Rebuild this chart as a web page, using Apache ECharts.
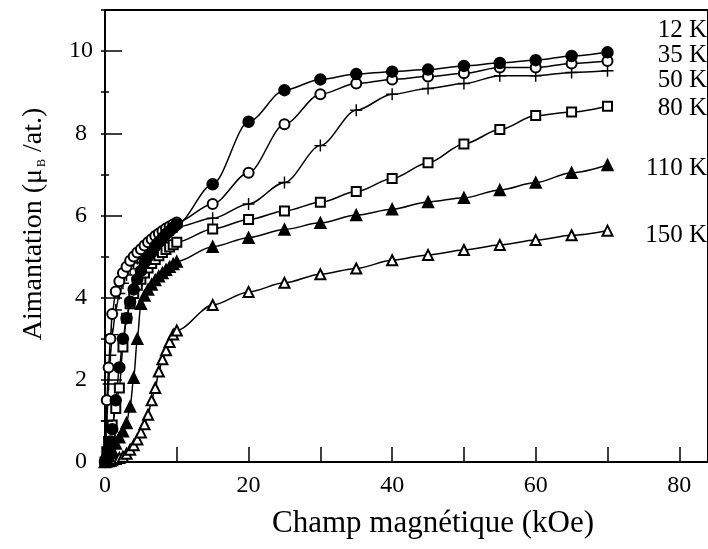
<!DOCTYPE html>
<html>
  <head>
    <meta charset="utf-8" />
    <title>Aimantation</title>
    <script src="https://cdn.jsdelivr.net/npm/echarts@6/dist/echarts.min.js"></script>
  </head>
  <body style="margin:0;background:#fff">
    <div id="container" style="width:708px;height:549px;"></div>
    <script type="text/javascript">
    // champ (kOe) : bas champ, pas serré
    var fieldLow = [0, 0.25, 0.5, 0.75, 1, 1.5, 2, 2.5, 3, 3.5, 4, 4.5, 5, 5.5, 6, 6.5, 7, 7.5, 8, 8.5, 9, 9.5, 10];
    // champ (kOe) : haut champ
    var fieldHigh = [15, 20, 25, 30, 35, 40, 45, 50, 55, 60, 65, 70];

    // aimantation (uB/at.) pour chaque température
    var low12 = [0, 0.1, 0.3, 0.5, 0.8, 1.5, 2.3, 3.0, 3.5, 3.9, 4.2, 4.45, 4.65, 4.85, 5.0, 5.1, 5.25, 5.35, 5.45, 5.55, 5.62, 5.7, 5.78];
    var high12 = [6.76, 8.28, 9.05, 9.31, 9.44, 9.50, 9.55, 9.64, 9.71, 9.78, 9.88, 9.97];
    var low35 = [0, 1.5, 2.3, 3.0, 3.6, 4.15, 4.4, 4.6, 4.75, 4.9, 5.0, 5.1, 5.18, 5.27, 5.35, 5.42, 5.5, 5.56, 5.62, 5.68, 5.73, 5.78, 5.83];
    var high35 = [6.28, 7.04, 8.22, 8.95, 9.21, 9.31, 9.38, 9.46, 9.60, 9.60, 9.70, 9.76];
    var low50 = [0, 1.0, 1.9, 2.6, 3.1, 3.7, 4.1, 4.35, 4.55, 4.7, 4.85, 4.95, 5.05, 5.15, 5.22, 5.3, 5.37, 5.43, 5.5, 5.55, 5.6, 5.65, 5.72];
    var high50 = [5.93, 6.28, 6.80, 7.70, 8.56, 8.95, 9.09, 9.21, 9.40, 9.40, 9.48, 9.52];
    var low80 = [0, 0.25, 0.5, 0.7, 0.9, 1.3, 1.8, 2.8, 3.5, 3.85, 4.1, 4.3, 4.45, 4.6, 4.72, 4.83, 4.93, 5.02, 5.1, 5.17, 5.23, 5.29, 5.35];
    var high80 = [5.67, 5.90, 6.11, 6.32, 6.58, 6.90, 7.28, 7.74, 8.09, 8.43, 8.52, 8.66];
    var low110 = [0, 0.08, 0.15, 0.22, 0.3, 0.45, 0.6, 0.75, 0.95, 1.35, 2.05, 3.0, 3.85, 4.05, 4.2, 4.32, 4.43, 4.52, 4.6, 4.68, 4.75, 4.82, 4.88];
    var high110 = [5.24, 5.46, 5.66, 5.82, 6.01, 6.15, 6.33, 6.43, 6.62, 6.80, 7.04, 7.23];
    var low150 = [0, 0.01, 0.02, 0.03, 0.04, 0.07, 0.1, 0.13, 0.2, 0.3, 0.41, 0.55, 0.72, 0.92, 1.15, 1.5, 1.8, 2.2, 2.5, 2.72, 2.92, 3.1, 3.2];
    var high150 = [3.82, 4.14, 4.36, 4.57, 4.71, 4.91, 5.04, 5.16, 5.28, 5.40, 5.52, 5.63];

    var tempLabels = ['12 K', '35 K', '50 K', '80 K', '110 K', '150 K'];

    var serif = 'Liberation Serif';
    var plusPath = 'path://M4.4,0h1.2v10h-1.2z M0,4.4h10v1.2h-10z';

    function pairs(low, high) {
      var d = [];
      for (var i = 0; i < fieldLow.length; i++) d.push([fieldLow[i], low[i]]);
      for (var j = 0; j < fieldHigh.length; j++) d.push([fieldHigh[j], high[j]]);
      return d;
    }

    function makeSeries(name, data, symbol, size, border) {
      return {
        name: name,
        type: 'line',
        data: data,
        symbol: symbol,
        symbolSize: size,
        smooth: 0.3,
        smoothMonotone: 'x',
        lineStyle: { color: '#000', width: 1.5 },
        itemStyle: { color: '#000', borderColor: '#000', borderWidth: border },
        emphasis: { disabled: true }
      };
    }

    var myChart = echarts.init(document.getElementById('container'));
    var gridLeft = 105, gridRight = -4;
    var gridWidth = 708 - gridLeft - gridRight;

    var option = {
      animation: false,
      grid: {
        left: gridLeft, right: gridRight, top: 10, bottom: 87,
        show: true, borderColor: '#000', borderWidth: 2, backgroundColor: 'transparent'
      },
      xAxis: {
        type: 'value', min: 0, max: 84, interval: 10,
        axisLine: { lineStyle: { color: '#000', width: 2 } },
        axisTick: { inside: true, length: 15, lineStyle: { color: '#000', width: 1.5 } },
        axisLabel: {
          formatter: function (v) { return v % 20 === 0 ? v : ''; },
          showMaxLabel: false, fontFamily: serif, fontSize: 24, color: '#000', margin: 12
        },
        splitLine: { show: false }
      },
      yAxis: [
        {
          type: 'value', min: 0, max: 11, interval: 2, position: 'left',
          axisLine: { lineStyle: { color: '#000', width: 2 } },
          axisTick: { inside: true, length: 17, lineStyle: { color: '#000', width: 1.5 } },
          axisLabel: {
            formatter: function (v) { return v % 2 === 0 ? v : ''; },
            showMaxLabel: false, fontFamily: serif, fontSize: 24, color: '#000',
            align: 'center', margin: 24
          },
          splitLine: { show: false }
        },
        {
          // petites graduations (chaque unité)
          type: 'value', min: 0, max: 11, interval: 1, position: 'right', offset: -gridWidth,
          axisLine: { show: false },
          axisTick: { inside: false, length: 8, lineStyle: { color: '#000', width: 1.5 } },
          axisLabel: { show: false },
          splitLine: { show: false }
        }
      ],
      series: [
        makeSeries('150 K', pairs(low150, high150), 'emptyTriangle', 10, 1.5),
        makeSeries('110 K', pairs(low110, high110), 'triangle', 11, 1.5),
        makeSeries('80 K', pairs(low80, high80), 'emptyRect', 9, 1.5),
        makeSeries('50 K', pairs(low50, high50), plusPath, 12, 0),
        makeSeries('35 K', pairs(low35, high35), 'emptyCircle', 10, 1.5),
        makeSeries('12 K', pairs(low12, high12), 'circle', 11, 1.5)
      ],
      graphic: [
        {
          type: 'text', x: 433, y: 524,
          style: {
            text: 'Champ magnétique (kOe)', font: '31px "Liberation Serif"', fill: '#000',
            align: 'center', verticalAlign: 'middle', textAlign: 'center', textVerticalAlign: 'middle'
          }
        },
        {
          type: 'text', x: 34, y: 224, rotation: Math.PI / 2,
          style: {
            text: 'Aimantation (μ{b|B} /at.)', font: '28px "Liberation Serif"', fill: '#000',
            align: 'center', verticalAlign: 'middle', textAlign: 'center', textVerticalAlign: 'middle',
            rich: { b: { fontSize: 12, fontFamily: serif, padding: [16, 0, 0, 2] } }
          }
        }
      ]
    };

    var labelY = [30, 55, 80, 108, 168, 235];
    for (var k = 0; k < tempLabels.length; k++) {
      option.graphic.push({
        type: 'text', x: 707, y: labelY[k],
        style: {
          text: tempLabels[k], font: '25px "Liberation Serif"', fill: '#000',
          align: 'right', verticalAlign: 'middle', textAlign: 'right', textVerticalAlign: 'middle'
        }
      });
    }

    myChart.setOption(option);
    window.addEventListener('resize', myChart.resize);
    </script>
  </body>
</html>
